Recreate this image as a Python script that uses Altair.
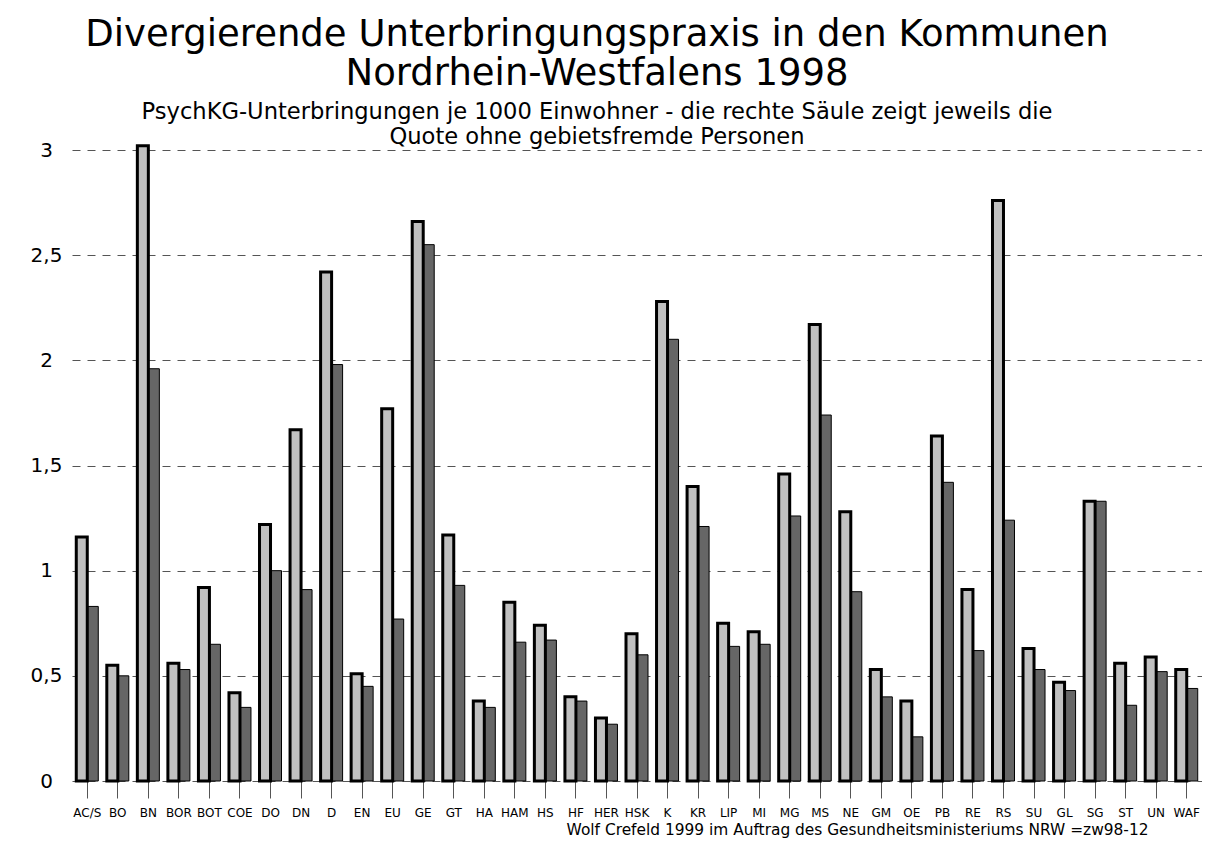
import altair as alt
import pandas as pd

categories = ["AC/S", "BO", "BN", "BOR", "BOT", "COE", "DO", "DN", "D", "EN", "EU", "GE", "GT",
              "HA", "HAM", "HS", "HF", "HER", "HSK", "K", "KR", "LIP", "MI", "MG", "MS", "NE",
              "GM", "OE", "PB", "RE", "RS", "SU", "GL", "SG", "ST", "UN", "WAF"]
quote_gesamt = [1.16, 0.55, 3.02, 0.56, 0.92, 0.42, 1.22, 1.67, 2.42, 0.51, 1.77, 2.66, 1.17,
                0.38, 0.85, 0.74, 0.40, 0.30, 0.70, 2.28, 1.40, 0.75, 0.71, 1.46, 2.17, 1.28,
                0.53, 0.38, 1.64, 0.91, 2.76, 0.63, 0.47, 1.33, 0.56, 0.59, 0.53]
quote_ohne_fremde = [0.83, 0.50, 1.96, 0.53, 0.65, 0.35, 1.00, 0.91, 1.98, 0.45, 0.77, 2.55, 0.93,
                     0.35, 0.66, 0.67, 0.38, 0.27, 0.60, 2.10, 1.21, 0.64, 0.65, 1.26, 1.74, 0.90,
                     0.40, 0.21, 1.42, 0.62, 1.24, 0.53, 0.43, 1.33, 0.36, 0.52, 0.44]

title_lines = ["Divergierende Unterbringungspraxis in den Kommunen", "Nordrhein-Westfalens 1998"]
subtitle_lines = ["PsychKG-Unterbringungen je 1000 Einwohner - die rechte Säule zeigt jeweils die",
                  "Quote ohne gebietsfremde Personen"]
footer = "Wolf Crefeld 1999 im Auftrag des Gesundheitsministeriums NRW =zw98-12"

df = pd.DataFrame({"Kommune": categories, "gesamt": quote_gesamt, "ohne": quote_ohne_fremde})

FONT = "DejaVu Sans"

x_enc = alt.X("Kommune:N", sort=categories,
              scale=alt.Scale(paddingInner=0, paddingOuter=0),
              axis=alt.Axis(title=footer, labelAngle=0, labelFontSize=12, labelColor="#000",
                            labelFont=FONT, tickSize=17, tickColor="#555", domain=False,
                            labelPadding=9, grid=False,
                            titleFont=FONT, titleFontSize=15.4, titleFontWeight="normal",
                            titleAlign="right", titleAnchor="end", titleX=1076, titleY=53,
                            titleBaseline="alphabetic", titleColor="#000"))

y_axis = alt.Axis(title=None, values=[0, 0.5, 1, 1.5, 2, 2.5, 3],
                  labelExpr="replace(format(datum.value, '~g'), '.', ',')",
                  labelFont=FONT, labelFontSize=20, labelColor="#000", labelAlign="center",
                  labelBaseline="middle", labelPadding=26, ticks=False, domain=False,
                  grid=True, gridDash=[8, 7], gridColor="#555", gridWidth=1)

base = alt.Chart(df)

dark = base.mark_bar(width=11, xOffset=5.5, fill="#666666", stroke="#000", strokeWidth=1).encode(
    x=x_enc,
    y=alt.Y("ohne:Q", scale=alt.Scale(domain=[0, 3], nice=False), axis=y_axis),
)
light = base.mark_bar(width=11, xOffset=-5.5, fill="#c0c0c0", stroke="#000", strokeWidth=3,
                      strokeJoin="miter").encode(
    x=x_enc,
    y=alt.Y("gesamt:Q"),
)

chart = alt.layer(dark, light).properties(
    width=1130, height=631,
    padding={"left": 64, "top": 142, "right": 0, "bottom": 58},
    autosize=alt.AutoSizeParams(type="none"),
    title=alt.Title(text=title_lines, subtitle=subtitle_lines, anchor="middle",
                    font=FONT, fontSize=37, fontWeight="normal", color="#000", lineHeight=39,
                    subtitleFont=FONT, subtitleFontSize=22.6, subtitleColor="#000",
                    subtitleLineHeight=25, subtitlePadding=8, dx=-40, dy=10, offset=0),
).configure(background="white").configure_view(stroke=None)

chart.save("out.html", embed_options={"renderer": "svg", "actions": False})
